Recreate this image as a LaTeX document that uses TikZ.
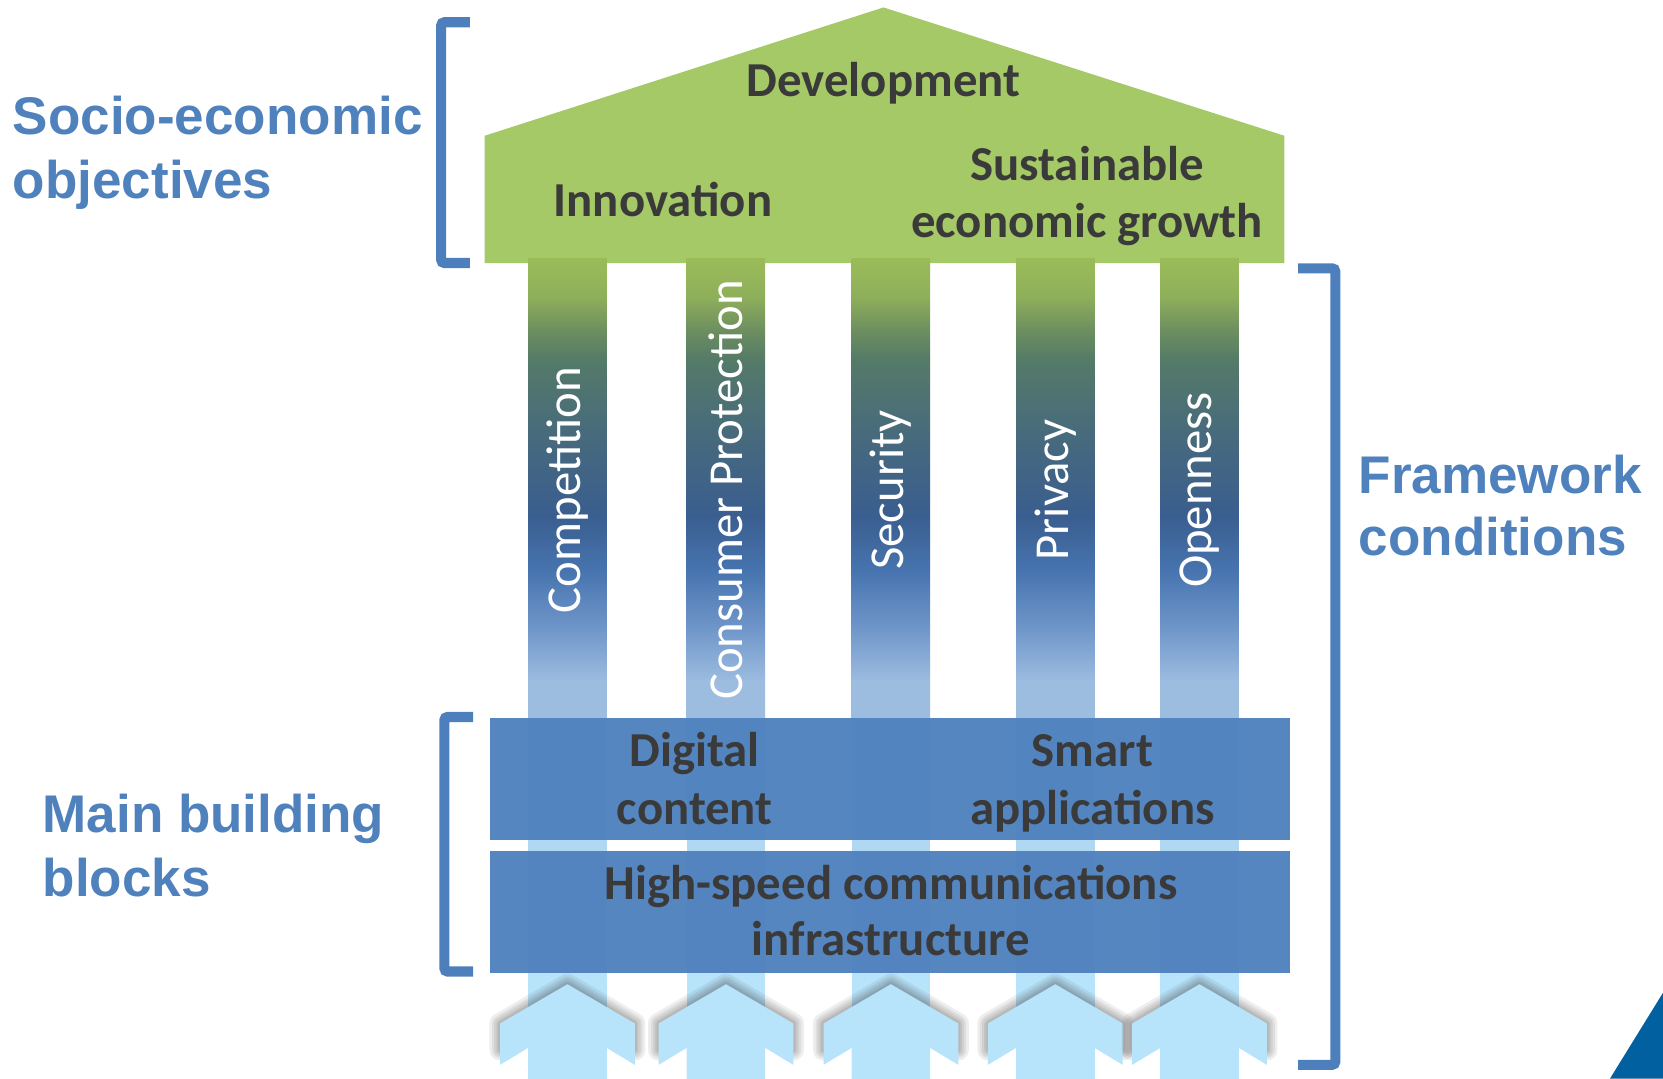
\documentclass[tikz,border=0pt]{standalone}
\usepackage{fontspec}
\newfontfamily\calfont{Carlito}
\newfontfamily\arlfont{Liberation Sans}
\definecolor{roofg}{HTML}{A5C966}
\definecolor{txt}{HTML}{3A3A3A}
\definecolor{sideblue}{HTML}{4F81BD}
\definecolor{brkblue}{HTML}{4D7FBC}
\definecolor{boxblue}{HTML}{4F81BD}
\definecolor{lightA}{HTML}{B0D8F2}
\definecolor{lightB}{HTML}{B8E4FB}
\definecolor{tri}{HTML}{0060A0}
\definecolor{c0}{HTML}{9BBB59}
\definecolor{c1}{HTML}{8FB05A}
\definecolor{c2}{HTML}{6B8D60}
\definecolor{c3}{HTML}{547A68}
\definecolor{c4}{HTML}{46697E}
\definecolor{c5}{HTML}{3A5E8F}
\definecolor{c6}{HTML}{4774AF}
\definecolor{c7}{HTML}{6E95C9}
\definecolor{c8}{HTML}{9CBCE0}
\definecolor{c9}{HTML}{9DBDE0}
\pgfdeclareverticalshading{pillarshade}{100bp}{color(0bp)=(c9); color(25bp)=(c9); color(29bp)=(c8); color(35bp)=(c7); color(41bp)=(c6); color(47bp)=(c5); color(55bp)=(c4); color(64bp)=(c3); color(67bp)=(c2); color(71bp)=(c1); color(75bp)=(c0); color(100bp)=(c0)}
\begin{document}
\begin{tikzpicture}[x=1pt,y=-1pt,
  lbl/.style={font=\calfont\bfseries\fontsize{46}{54}\selectfont, text=txt, inner sep=0, anchor=base},
  side/.style={font=\arlfont\bfseries\fontsize{50}{60}\selectfont, text=sideblue, inner sep=0, anchor=base west},
  pil/.style={font=\calfont\fontsize{46}{54}\selectfont, text=white, rotate=90, inner sep=0},
  brk/.style={draw=brkblue, line width=9.5, rounded corners=3},
  blockbox/.style={fill=boxblue, fill opacity=0.96, minimum width=754, minimum height=115, inner sep=0, draw=none},
  shadowline/.style={draw=black!75, line width=#1, opacity=0.09, line join=round, line cap=round}
]
\useasboundingbox (0,0) rectangle (1568,1017);
% roof
\fill[roofg] (457,248) -- (457,128) -- (833,7) -- (1211,128) -- (1211,248) -- cycle;
% pillars
\foreach \c in {535,684.5,840,995,1131}{
  \shade[shading=pillarshade] (\c-37,244) rectangle (\c+37,677);
  \fill[lightA] (\c-37,677) rectangle (\c+37,802);
  \fill[lightB] (\c-37,802) rectangle (\c+37,1017);
}
% bottom arrows
\foreach \c in {535,684.5,840,995,1131}{
  \foreach \w in {20,15,11,7,4}{
    \draw[shadowline=\w] (\c-63.5,990) -- (\c-63.5,965) -- (\c,928) -- (\c+63.5,965) -- (\c+63.5,990);
  }
  \fill[lightB] (\c,928) -- (\c+63.5,965) -- (\c+63.5,1004) -- (\c+37,988) -- (\c+37,1017)
     -- (\c-37,1017) -- (\c-37,988) -- (\c-63.5,1004) -- (\c-63.5,965) -- cycle;
}
% building blocks
\node[blockbox] (box1) at (839,734.5) {};
\node[blockbox] (box2) at (839,859.5) {};
% roof texts
\node[lbl] (dev) at (833,91) {Development};
\node[lbl] (inno) at (625,204.5) {Innovation};
\node[lbl] (sust1) at (1025,170) {Sustainable};
\node[lbl] (sust2) at (1025,224) {economic growth};
% pillar texts
\node[pil] (p1) at (535,462) {Competition};
\node[pil] (p2) at (684.5,462) {Consumer Protection};
\node[pil] (p3) at (840,462) {Security};
\node[pil] (p4) at (995,462) {Privacy};
\node[pil] (p5) at (1131,462) {Openness};
% block texts
\node[lbl] (dig1) at (655,723) {Digital};
\node[lbl] (dig2) at (655,777) {content};
\node[lbl] (sm1) at (1030,723) {Smart};
\node[lbl] (sm2) at (1030,777) {applications};
\node[lbl] (hs1) at (840,848) {High-speed communications};
\node[lbl] (hs2) at (840,901) {infrastructure};
% side labels
\node[side] (soc1) at (12,127) {Socio-economic};
\node[side] (soc2) at (12,187) {objectives};
\node[side] (fw1) at (1281,465) {Framework};
\node[side] (fw2) at (1281,524) {conditions};
\node[side] (mb1) at (40,785) {Main building};
\node[side] (mb2) at (40,845) {blocks};
% brackets
\draw[brk] (443,21) -- (416,21) -- (416,248) -- (443,248);
\draw[brk] (446,676) -- (419,676) -- (419,916) -- (446,916);
\draw[brk] (1224,253) -- (1259,253) -- (1259,1004) -- (1224,1004);
% corner triangle
\fill[tri] (1568,936) -- (1518,1017) -- (1568,1017) -- cycle;
\end{tikzpicture}
\end{document}
